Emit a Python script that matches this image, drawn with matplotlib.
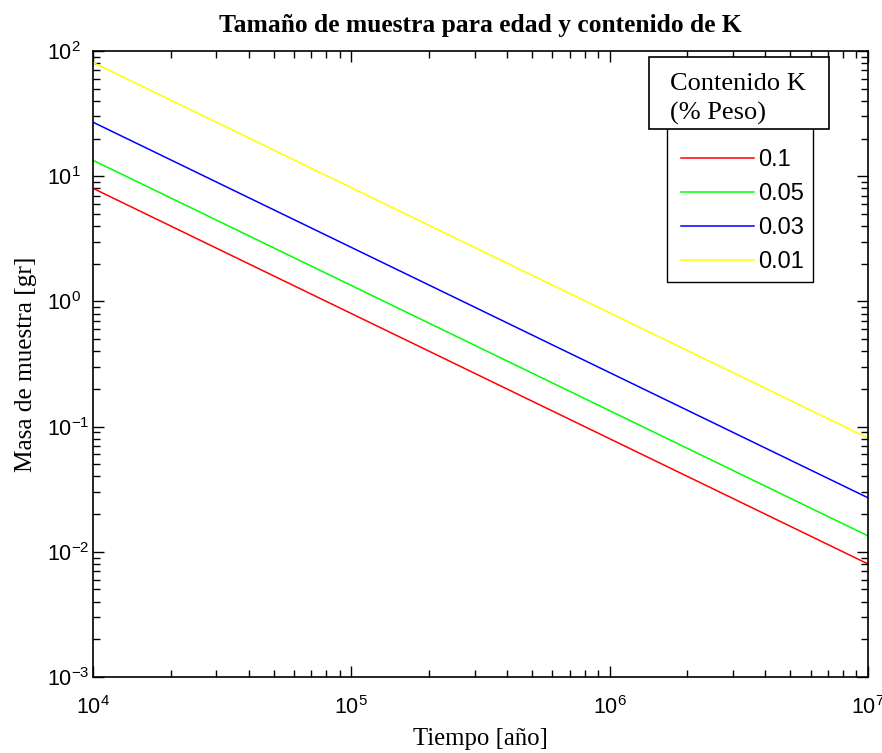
import numpy as np
import matplotlib
matplotlib.use("Agg")
import matplotlib.pyplot as plt
from matplotlib.patches import Rectangle
from matplotlib.ticker import LogLocator, NullFormatter

# data (mass vs time, one line per K content)
tiempo = [1e4, 1e5, 1e6, 1e7]
masa_01 = [8.0, 0.80, 0.080, 0.0080]
masa_005 = [13.4, 1.34, 0.134, 0.0134]
masa_003 = [27.0, 2.70, 0.270, 0.0270]
masa_001 = [81.0, 8.10, 0.810, 0.0810]
etiquetas = ["0.1", "0.05", "0.03", "0.01"]
colores = ["#ff0000", "#00ff00", "#0000ff", "#ffff00"]

plt.rcParams['mathtext.fontset'] = 'custom'
plt.rcParams['mathtext.rm'] = 'Liberation Sans'
plt.rcParams['mathtext.it'] = 'Liberation Sans'
plt.rcParams['mathtext.default'] = 'regular'
plt.rcParams['axes.unicode_minus'] = False

W, H = 882, 753
fig = plt.figure(figsize=(W / 100, H / 100), dpi=100)
ax = fig.add_axes([93 / W, 1 - 677 / H, (868 - 93) / W, (677 - 51) / H])

series = [masa_01, masa_005, masa_003, masa_001]
for vals, c, lab in zip(series, colores, etiquetas):
    ax.loglog(tiempo, vals, color=c, lw=1.1, label=lab)

ax.set_xlim(1e4, 1e7)
ax.set_ylim(1e-3, 1e2)
ax.xaxis.set_major_locator(LogLocator(base=10, numticks=10))
ax.yaxis.set_major_locator(LogLocator(base=10, numticks=10))
ax.xaxis.set_minor_locator(LogLocator(base=10, subs=np.arange(2, 10), numticks=20))
ax.yaxis.set_minor_locator(LogLocator(base=10, subs=np.arange(2, 10), numticks=20))
ax.xaxis.set_minor_formatter(NullFormatter())
ax.yaxis.set_minor_formatter(NullFormatter())
ax.tick_params(which='both', direction='in', top=True, right=True, width=1.0)
ax.tick_params(which='major', length=8, labelsize=15.5)
ax.tick_params(axis='x', which='major', pad=14)
# etiquetas del eje y alineadas a la izquierda (como en MATLAB)
ax.tick_params(axis='y', which='major', pad=33)
for lbl in ax.get_xticklabels() + ax.get_yticklabels():
    lbl.set_family('Liberation Sans')
for lbl in ax.get_yticklabels():
    lbl.set_horizontalalignment('left')
ax.tick_params(which='minor', length=5)
for s in ax.spines.values():
    s.set_linewidth(1.2)

ax.set_title("Tamaño de muestra para edad y contenido de K", family='Liberation Serif',
             fontweight='bold', fontsize=18.4, pad=13.5)
ax.set_xlabel("Tiempo [año]", family='Liberation Serif', fontsize=17.8, labelpad=6)
ax.set_ylabel("Masa de muestra [gr]", family='Liberation Serif', fontsize=18.2, labelpad=7.5)

# marco de la leyenda dibujado aparte
fig.add_artist(Rectangle((667 / W, 1 - 282 / H), (813 - 667) / W, (282 - 115) / H,
                         transform=fig.transFigure, facecolor='white',
                         edgecolor='black', lw=1.0, zorder=3))
leg = ax.legend(loc='lower left', bbox_to_anchor=(672 / W, 1 - 282 / H),
                bbox_transform=fig.transFigure, borderaxespad=0,
                prop={'family': 'Liberation Sans', 'size': 17},
                handlelength=3.1, handletextpad=0.17, labelspacing=0.51,
                frameon=False, borderpad=0.38)
leg.set_zorder(4)
fig.add_artist(leg)

# caja del titulo de la leyenda
fig.add_artist(Rectangle((649 / W, 1 - 129 / H), (829 - 649) / W, (129 - 57) / H,
                         transform=fig.transFigure, facecolor='white',
                         edgecolor='black', lw=1.2, zorder=5))
fig.text(670 / W, 1 - 84 / H, "Contenido K", family='Liberation Serif', fontsize=19,
         va='center', ha='left', zorder=6)
fig.text(670 / W, 1 - 113 / H, "(% Peso)", family='Liberation Serif', fontsize=19,
         va='center', ha='left', zorder=6)

fig.savefig("out.png", dpi=100)
